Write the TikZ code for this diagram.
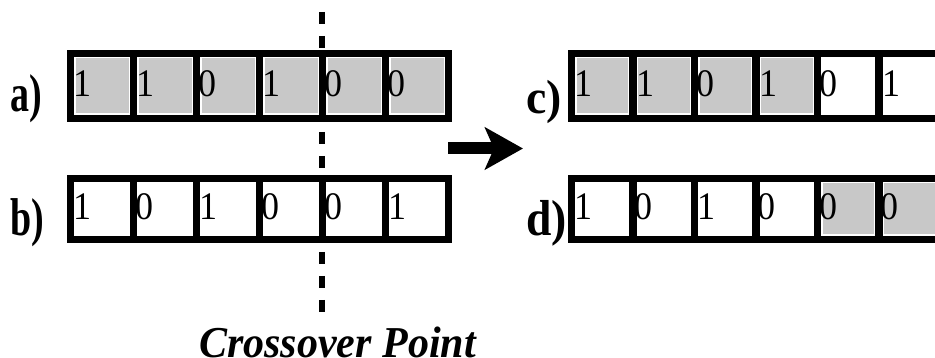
\documentclass[tikz,border=0pt]{standalone}
\usepackage{fontspec}
\setmainfont{Liberation Serif}
\usetikzlibrary{arrows.meta}
\definecolor{cellgray}{RGB}{200,200,200}
\tikzset{
  frame/.style={line width=7.5pt},
  digit/.style={anchor=base west, inner sep=0pt, font=\fontsize{30}{30}\selectfont, xscale=1.2, yscale=1.3},
  lbl/.style={anchor=base west, inner sep=0pt, font=\fontsize{38}{38}\selectfont\bfseries, yscale=1.4},
  lblwide/.style={lbl, xscale=1.25, yscale=0.9},
  cptxt/.style={anchor=base west, inner sep=0pt, font=\fontsize{42}{42}\selectfont\bfseries\itshape, yscale=1.05},
  cpline/.style={line width=6pt, dash pattern=on 12pt off 12pt, dash phase=12pt},
  bigarrow/.style={line width=12pt, -{Stealth[length=38pt,width=42pt,inset=9pt]}},
}
% #1 name, #2 x0, #3 y0, #4 pitch, #5 height, #6 baseline, #7 list digit/fill
\newcommand\chromosome[7]{%
  \foreach \d/\f [count=\k from 0] in {#7} {
    \fill[\f] ({#2+\k*#4+5},{#3+5}) rectangle ({#2+(\k+1)*#4-5},{#3+#5-5});
    \pgfmathsetmacro\off{\d==0 ? 1.5 : 3}
    \node[digit] (#1\k) at ({#2+\k*#4+\off},#6) {\d};
  }
  \draw[frame] (#2,#3) rectangle ({#2+6*#4},{#3+#5});
  \foreach \k in {1,...,5} {
    \draw[frame] ({#2+\k*#4},#3) -- ({#2+\k*#4},{#3+#5});
  }
}
\begin{document}
\begin{tikzpicture}[x=1pt,y=-1pt]
  \useasboundingbox (0,0) rectangle (935,358);
  \clip (0,0) rectangle (935,358);
  % crossover line
  \coordinate (cpTop) at (322,0);
  \coordinate (cpBot) at (322,312);
  \draw[cpline] (cpTop) -- (cpBot);
  % chromosomes
  \chromosome{a}{70.5}{53.5}{63}{65}{97}{1/cellgray,1/cellgray,0/cellgray,1/cellgray,0/cellgray,0/cellgray}
  \chromosome{b}{70.5}{178.5}{63}{61}{220}{1/white,0/white,1/white,0/white,0/white,1/white}
  \chromosome{c}{571.5}{53.5}{61.5}{65}{97}{1/cellgray,1/cellgray,0/cellgray,1/cellgray,0/white,1/white}
  \chromosome{d}{571.5}{178.5}{61.5}{61}{220}{1/white,0/white,1/white,0/white,0/cellgray,0/cellgray}
  % labels
  \node[lbl] (la) at (10,112) {a)};
  \node[lbl] (lb) at (10,236) {b)};
  \node[lbl, xscale=1.2, yscale=0.9] (lc) at (526,114) {c)};
  \node[lbl, xscale=1.2, yscale=0.95] (ld) at (526,236) {d)};
  % arrow
  \coordinate (arrS) at (448,148.5);
  \coordinate (arrE) at (523,148.5);
  \draw[bigarrow] (arrS) -- (arrE);
  % caption
  \node[cptxt] (cp) at (199,357) {Crossover Point};
\end{tikzpicture}
\end{document}
